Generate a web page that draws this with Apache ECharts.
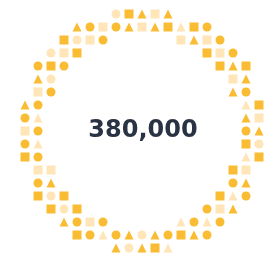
<!DOCTYPE html>
<html>
<head>
<meta charset="utf-8">
<script src="https://cdn.jsdelivr.net/npm/echarts@6/dist/echarts.min.js"></script>
<style>html,body{margin:0;padding:0;background:#fff}#c{width:273px;height:256px}</style>
</head>
<body>
<div id="c"></div>
<script>
// [column, row] cells of the ring
const circleDark = [[6,1],[8,1],[15,1],[7,2],[16,2],[17,3],[2,4],[4,4],[3,6],[18,6],[2,7],[1,8],[2,9],[18,9],[1,10],[2,11],[2,13],[17,13],[18,14],[15,15],[5,16],[7,16],[14,16],[16,16],[6,17],[8,17],[12,17],[15,17]];
const circleLight = [[8,0],[5,2],[3,3],[3,5],[19,10],[3,14],[4,15],[10,17],[9,18]];
const squareDark = [[9,0],[12,1],[14,1],[4,2],[5,3],[15,3],[3,4],[16,4],[18,4],[19,7],[18,10],[1,11],[19,11],[17,12],[2,14],[4,14],[16,14],[3,15],[5,15],[5,17],[13,17],[11,18]];
const squareLight = [[11,0],[7,1],[10,1],[6,2],[13,2],[15,2],[4,3],[16,3],[17,5],[2,6],[19,8],[1,9],[2,12],[3,12],[18,12],[16,15],[6,16]];
const triangleDark = [[10,0],[12,0],[5,1],[9,1],[11,1],[14,2],[17,4],[2,5],[18,5],[17,6],[1,7],[18,8],[19,9],[3,13],[18,13],[17,15],[4,16],[9,17],[11,17],[14,17],[8,18],[10,18]];
const triangleLight = [[13,1],[18,7],[2,8],[2,10],[18,11],[17,14],[13,16],[15,16],[7,17],[12,18]];
const centerLabel = '380,000';

const DARK = '#F9AB00', LIGHT = '#FFDEA6';
function s(data, symbol, color) {
  return { type: 'scatter', data: data, symbol: symbol, symbolSize: 9, itemStyle: { color: color }, silent: true, animation: false };
}
const chart = echarts.init(document.getElementById('c'), null, { renderer: 'canvas' });
chart.setOption({
  animation: false,
  grid: { left: 25, top: 14, width: 234, height: 234 },
  xAxis: { type: 'value', min: 1, max: 19, show: false },
  yAxis: { type: 'value', min: 0, max: 18, inverse: true, show: false },
  series: [
    s(circleDark, 'circle', DARK), s(circleLight, 'circle', LIGHT),
    s(squareDark, 'rect', DARK), s(squareLight, 'rect', LIGHT),
    s(triangleDark, 'triangle', DARK), s(triangleLight, 'triangle', LIGHT)
  ],
  graphic: [{
    type: 'text', x: 143, y: 131,
    style: { text: centerLabel, fill: '#2A3344', font: 'bold 24px "DejaVu Sans"', align: 'center', verticalAlign: 'middle' }
  }]
});
</script>
</body>
</html>
